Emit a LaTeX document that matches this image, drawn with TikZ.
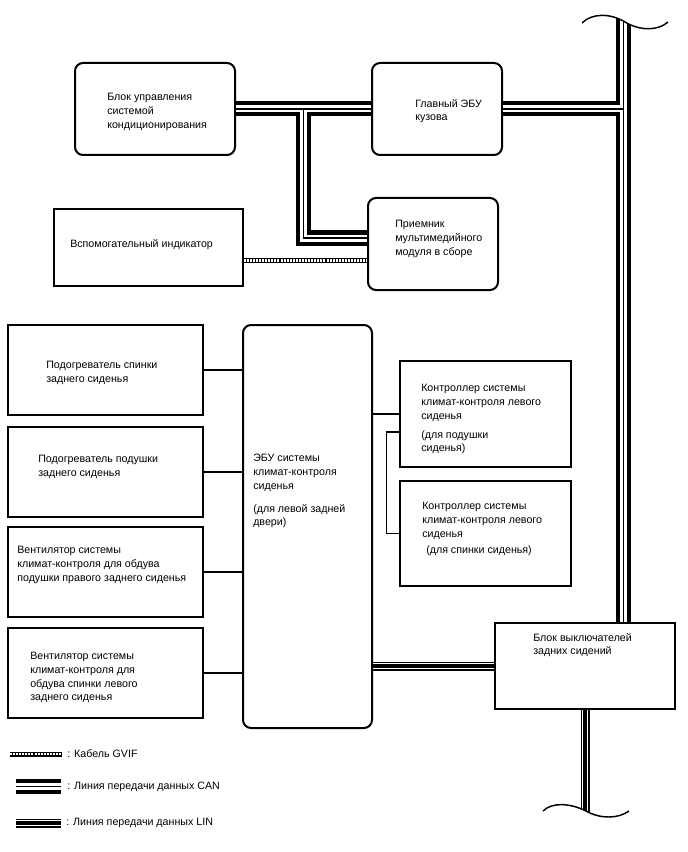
\documentclass[tikz,border=0pt]{standalone}
\usepackage{fontspec}
\setmainfont{Liberation Sans}
\usepackage{tikz}
\usetikzlibrary{calc}

\tikzset{
  unit/.style={draw, line width=1.5pt, rounded corners=6pt, fill=white, inner sep=0pt},
  block/.style={draw, line width=1.1pt, fill=white, inner sep=0pt},
  txt/.style={anchor=north west, inner sep=0pt, align=left, font=\fontsize{8}{10.3}\selectfont},
  wire/.style={line width=0.8pt},
  can/.style={line width=11.25pt,
    postaction={draw, white, line width=5.25pt},
    postaction={draw, black, line width=1.1pt}},
  lin/.style={line width=6.75pt,
    postaction={draw, white, line width=4.8pt},
    postaction={draw, black, line width=2.6pt}},
  gvif/.style={line width=3.75pt,
    postaction={draw, white, line width=2.1pt, dash pattern=on 1.5pt off 0.8pt}},
  wave/.style={line width=1.1pt}
}

\begin{document}
\begin{tikzpicture}[x=0.75pt, y=-0.75pt]
    \useasboundingbox (0,0) rectangle (688,852);

    % blocks
    \node[unit, minimum width=120pt, minimum height=69pt] (b1) at (155,109) {};
    \node[unit, minimum width=97.5pt, minimum height=69pt] (b2) at (437,109) {};
    \node[unit, minimum width=97.5pt, minimum height=69pt] (b3) at (433,244) {};
    \node[block, minimum width=141.75pt, minimum height=57.75pt] (b4) at (148.5,247.5) {};
    \node[block, minimum width=146.25pt, minimum height=67.5pt] (b5) at (105.5,370) {};
    \node[block, minimum width=146.25pt, minimum height=67.5pt] (b6) at (105.5,472) {};
    \node[block, minimum width=146.25pt, minimum height=67.5pt] (b7) at (105.5,572) {};
    \node[block, minimum width=146.25pt, minimum height=67.5pt] (b8) at (105.5,673) {};
    \node[unit, minimum width=96.75pt, minimum height=302.25pt] (ecu) at (307.5,526.5) {};
    \node[block, minimum width=128.25pt, minimum height=79.5pt] (b9) at (485.5,414) {};
    \node[block, minimum width=128.25pt, minimum height=78.75pt] (b10) at (485.5,533.5) {};
    \node[block, minimum width=135pt, minimum height=64.5pt] (b11) at (585,666) {};

    \node[txt] (t1) at (107,93) {Блок управления\\системой\\кондиционирования};
    \node[txt] (t2) at (415,99) {Главный ЭБУ\\кузова};
    \node[txt] (t3) at (395,220) {Приемник\\мультимедийного\\модуля в сборе};
    \node[txt] (t4) at (70,239) {Вспомогательный индикатор};
    \node[txt] (t5) at (46,361) {Подогреватель спинки\\заднего сиденья};
    \node[txt] (t6) at (38,455) {Подогреватель подушки\\заднего сиденья};
    \node[txt] (t7) at (17,546) {Вентилятор системы\\климат-контроля для обдува\\подушки правого заднего сиденья};
    \node[txt] (t8) at (30,652) {Вентилятор системы\\климат-контроля для\\обдува спинки левого\\заднего сиденья};
    \node[txt] (tecu) at (253,454) {ЭБУ системы\\климат-контроля\\сиденья\\[7pt](для левой задней\\двери)};
    \node[txt] (t9) at (421,384) {Контроллер системы\\климат-контроля левого\\сиденья\\[4pt](для подушки\\сиденья)};
    \node[txt] (t10) at (422,502) {Контроллер системы\\климат-контроля левого\\сиденья\\[2pt]\hspace*{3pt}(для спинки сиденья)};
    \node[txt] (t11) at (533,633) {Блок выключателей\\задних сидений};

    % bus ends
    \coordinate (bustop) at (623.5,12);
    \coordinate (busend) at (585,822);

    % CAN
    \draw[can] (b1.east) -- (b2.west)
      (b2.east) -- (b2.east -| bustop)
      (bustop) -- (bustop |- b11.north)
      ($(b1.east)!.5!(b2.west)$) |- ([yshift=4.5pt]b3.west);

    % LIN
    \draw[lin] (b11.west) -- (b11.west -| ecu.east)
      (b11.south) -- (busend);

    % GVIF
    \draw[gvif] ([yshift=-10pt]b4.east) -- ([yshift=-10pt]b4.east -| b3.west);

    \draw[wire] (b5.east) -- (b5.east -| ecu.west);
    \draw[wire] (b6.east) -- (b6.east -| ecu.west);
    \draw[wire] (b7.east) -- (b7.east -| ecu.west);
    \draw[wire] (b8.east) -- (b8.east -| ecu.west);
    \draw[wire] (b9.west) -- (b9.west -| ecu.east);
    \draw[wire] ([yshift=-13.5pt]b9.west) -- ++(-13,0) |- (b10.west);

    % cut marks
    \fill[white] (582,23) .. controls (592,13) and (610,13) .. (625,22)
      .. controls (640,31) and (658,31) .. (668,22) -- (668,0) -- (582,0) -- cycle;
    \draw[wave] (582,23) .. controls (592,13) and (610,13) .. (625,22)
      .. controls (640,31) and (658,31) .. (668,22);
    \fill[white] (543,811) .. controls (552,802) and (570,803) .. (586,811)
      .. controls (600,819) and (618,819) .. (629,811) -- (629,852) -- (543,852) -- cycle;
    \draw[wave] (543,811) .. controls (552,802) and (570,803) .. (586,811)
      .. controls (600,819) and (618,819) .. (629,811);

    % legend
    \coordinate (lg1) at (10,754);
    \coordinate (lg2) at (16,786.5);
    \coordinate (lg3) at (16,823);
    \draw[gvif] (lg1) -- ++(52,0);
    \draw[can] (lg2) -- ++(45,0);
    \draw[lin] (lg3) -- ++(45,0);
    \node[txt, anchor=west] (l1) at (67,754) {: Кабель GVIF};
    \node[txt, anchor=west] (l2) at (67,786.5) {: Линия передачи данных CAN};
    \node[txt, anchor=west] (l3) at (66,823) {: Линия передачи данных LIN};
  \end{tikzpicture}
\end{document}
